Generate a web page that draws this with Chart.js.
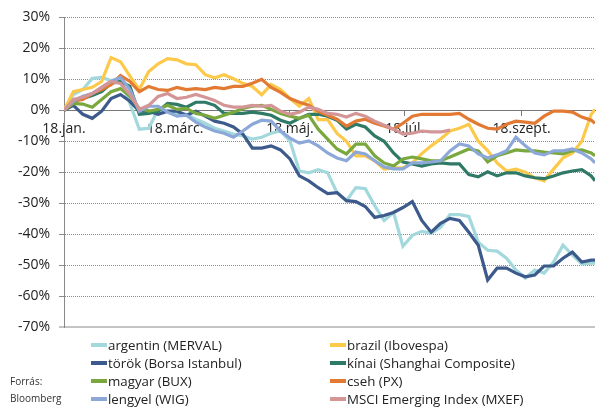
<!DOCTYPE html>
<html>
<head>
<meta charset="utf-8">
<script src="https://cdn.jsdelivr.net/npm/chart.js@4/dist/chart.umd.min.js"></script>
<style>
  body { margin: 0; background: #fff; }
  #wrap { position: relative; width: 614px; height: 409px; font-family: "Open Sans", sans-serif; color: #222; }
  #chart { position: absolute; left: 0; top: 0; }
  .item { position: absolute; font-size: 13.3px; line-height: 18px; white-space: nowrap; }
  .item span { display: inline-block; width: 16px; height: 4px; vertical-align: middle; margin-right: 1px; position: relative; top: -1px; }
  #source { position: absolute; left: 10px; top: 373px; font-size: 10px; line-height: 17px; color: #333; }
</style>
</head>
<body>
<div id="wrap">
  <canvas id="chart" width="614" height="409"></canvas>
  <div id="legend"></div>
  <div id="source">Forrás:<br>Bloomberg</div>
</div>
<script>
// days since 2018-01-01
const days = [0,5,10,15,20,25,30,35,40,45,50,55,60,65,70,75,80,85,90,95,100,105,110,115,120,125,130,135,140,145,150,155,160,165,170,175,180,185,190,195,200,205,210,215,220,225,230,235,240,245,250,255,260,265,270,275,280,282];

const tickDays = [0, 59, 120, 181, 243];
const tickLabels = ["18.jan.", "18.márc.", "18.máj.", "18.júl.", "18.szept."];

const argentin = [0,5.1,6.7,10.3,10.6,9.6,10.3,2.2,-6.1,-5.8,0.3,-0.3,-1,-1.3,-2.9,-4.2,-5.8,-6.7,-7.7,-8.3,-9.3,-8.7,-7.4,-6.7,-9.9,-19.6,-20.2,-19.2,-20.2,-26.6,-29.2,-25,-25.3,-30.8,-35.6,-33,-43.9,-40.4,-39.1,-39.7,-37.8,-33.7,-33.7,-34.3,-42.6,-45.2,-45.5,-47.8,-51.6,-54.2,-51.6,-52.6,-49,-43.6,-46.8,-49.7,-49.4,-49.4];
const brazil = [0,6,6.7,7.4,9.3,17,15.7,11,6.7,12.5,15,16.7,16.3,15,14.7,11.5,10.5,11.5,10.2,8.7,7.7,5,8.3,6.7,3.8,1.3,3.8,-3,-3,-7.5,-10,-14.7,-14.7,-16.3,-19,-18.6,-18.6,-17,-14,-11.5,-9.3,-6.7,-5.8,-4.5,-10,-13,-17,-19.6,-19,-20,-21.8,-22.8,-19,-15.4,-13.8,-10,-1.3,0.3];
const torok = [0,1.6,-1.3,-2.6,-0.3,3.8,5.1,2.9,-0.3,-0.3,-1.3,-0.3,-0.3,-1.6,-0.3,-1.9,-3.5,-4.2,-5.4,-7.7,-12.2,-12.2,-11.5,-12.8,-15.7,-21.2,-22.8,-25,-26.9,-26.6,-29.2,-29.5,-31.1,-34.6,-34,-33,-31.4,-29.5,-35.6,-39.4,-36.5,-34.9,-35.6,-39.4,-43.6,-54.8,-51,-51,-52.6,-53.8,-53.2,-50.3,-50.3,-47.8,-45.8,-49,-48.4,-48.4];
const kinai = [0,3,3.8,4.8,6,8.7,9.3,7.7,-1.3,-1,-0.3,2.2,1.9,1,2.6,2.6,1.6,-1,-1,-1,-0.6,-1,-1.6,-3.2,-4.2,-2.6,-1.3,-1.3,-1.9,-3.2,-6.1,-4.5,-5.4,-8.3,-10,-13.8,-16.7,-17.3,-18,-17.3,-17,-17.3,-17.3,-20.8,-21.5,-19.9,-21.2,-20.2,-20.2,-21.2,-21.8,-22.1,-21.2,-20.2,-19.6,-19.2,-21.2,-22.8];
const magyar = [0,2.2,2,1,3.5,6,7,4.5,0.6,-0.3,0.3,1.6,0.3,0.6,-1,-1.6,-2.6,-1.6,-0.6,0.6,1.3,1.6,0.3,-1,-1.9,-2.6,-1.6,-6.1,-9.3,-12.5,-14.1,-10.9,-10.9,-14.7,-17,-18,-15.7,-15.1,-15.7,-16.3,-16.3,-15.1,-13.8,-12.5,-13.1,-16.7,-14.7,-13.8,-12.8,-13.1,-13.1,-13.5,-13.8,-14.1,-13.1,-12.8,-13.8,-14.7];
const cseh = [0,3,3.5,5.4,6.7,8.3,11.2,9.3,6,7.7,6.7,6.4,7.4,6.7,7,6.7,7.4,7,7.7,7.7,8.7,10,7.4,5.8,3.8,2.6,1.6,-0.3,-1.6,-2.9,-5.1,-3.5,-2.9,-4.2,-5.1,-6.1,-4.2,-1.9,-1.3,-1.3,-1.3,-1.3,-1,-2.9,-4.5,-5.8,-6.1,-4.5,-3.5,-3.8,-4.2,-1.9,-0.3,-0.3,-0.6,-2.2,-3.2,-4.2];
const lengyel = [0,3,4.5,5.4,7.4,9.3,10.6,6.7,-0.3,1.3,1.3,-0.6,-1.9,-1.6,-3.8,-5.4,-6.7,-7.4,-8.7,-6.7,-4.5,-3.2,-3.5,-6.7,-9,-10.6,-9.9,-11.5,-13.8,-15.4,-16.3,-13.5,-14.1,-16.3,-18.3,-18.9,-18.9,-17,-17,-16.7,-16.3,-13.1,-10.9,-11.5,-14.1,-15.4,-14.4,-13.1,-8.7,-11.5,-13.8,-14.4,-13.1,-13.1,-12.5,-13.8,-15.7,-17];
const msci = [0,3.5,4.2,5.4,7.4,9.3,8.7,5.1,0.3,1.6,4.5,5.4,3.8,4.2,5.1,4.2,3.2,1.6,1,1,1.6,1.3,1.6,-0.3,-1.3,-0.6,1,0.3,-1,-1.3,-2.2,-1,-1.9,-3.5,-4.8,-6.1,-7.7,-7.4,-6.7,-7,-7,-6.4,null,null,null,null,null,null,null,null,null,null,null,null,null,null,null,null];

const names = ["argentin (MERVAL)", "brazil (Ibovespa)", "török (Borsa Istanbul)", "kínai (Shanghai Composite)", "magyar (BUX)", "cseh (PX)", "lengyel (WIG)", "MSCI Emerging Index (MXEF)"];
const colors = ["#a3d9dd", "#fdc94a", "#3d5a8c", "#2f7a66", "#7aa83e", "#e27a33", "#8ca8d8", "#d49596"];
const series = [argentin, brazil, torok, kinai, magyar, cseh, lengyel, msci];

const datasets = series.map((vals, i) => ({
    label: names[i],
    data: vals.map((v, j) => ({ x: days[j], y: v })),
    borderColor: colors[i],
    backgroundColor: colors[i],
    order: series.length - i
}));

const font = { family: "'Open Sans', sans-serif", size: 14 };

new Chart(document.getElementById("chart"), {
    type: "line",
    data: { datasets: datasets },
    options: {
        responsive: false,
        animation: false,
        devicePixelRatio: 1,
        layout: { padding: { left: 0, top: 16, right: 19, bottom: 82 } },
        plugins: { legend: { display: false }, tooltip: { enabled: false } },
        elements: { point: { radius: 0 }, line: { borderWidth: 3.2, tension: 0 } },
        scales: {
            x: {
                type: "linear",
                min: 0,
                max: 282,
                position: { y: 0 },
                z: 1,
                afterBuildTicks: s => { s.ticks = tickDays.map(v => ({ value: v })); },
                ticks: {
                    autoSkip: false,
                    maxRotation: 0,
                    padding: 5,
                    color: "#222",
                    font: font,
                    callback: (v, i) => tickLabels[i]
                },
                grid: { drawOnChartArea: false, drawTicks: true, tickLength: 5, color: "#777" },
                border: { color: "#777", width: 1 }
            },
            y: {
                min: -70,
                max: 30,
                afterFit: s => { s.width = 64; },
                ticks: { stepSize: 10, padding: 9, color: "#222", font: font, callback: v => v + "%" },
                grid: {
                    tickLength: 5,
                    color: c => c.tick.value === -70 ? "#c4c4c4" : "#8a8a8a",
                    lineWidth: c => c.tick.value === -70 ? 2 : 1
                },
                border: { color: "#888", width: 1, dash: c => (c.tick && c.tick.value === -70) ? [] : [1, 1] }
            }
        }
    }
});

// legend, two columns like the original
const legend = document.getElementById("legend");
names.forEach((n, i) => {
    const d = document.createElement("div");
    d.className = "item";
    d.style.left = (i % 2 === 0 ? 91 : 330) + "px";
    d.style.top = (336 + Math.floor(i / 2) * 18) + "px";
    d.innerHTML = `<span style="background:${colors[i]}"></span>${n}`;
    legend.appendChild(d);
});
</script>
</body>
</html>
